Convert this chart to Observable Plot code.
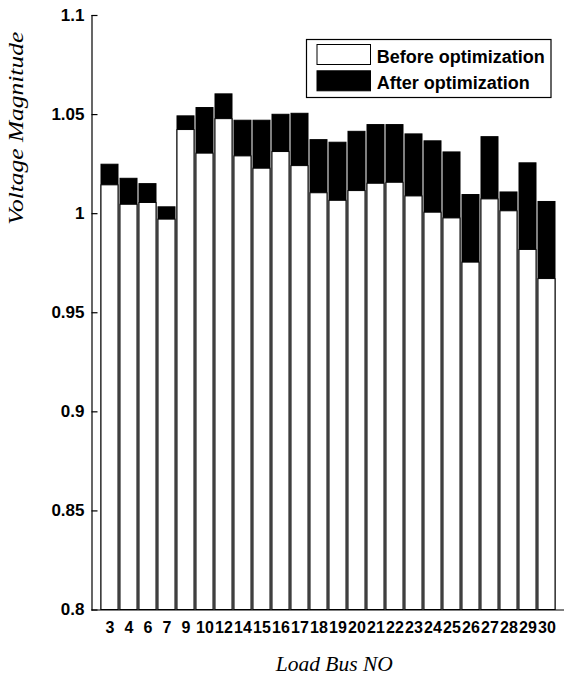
<!DOCTYPE html>
<html>
<head>
<meta charset="utf-8">
<script src="https://cdn.jsdelivr.net/npm/d3@7"></script>
<script src="https://cdn.jsdelivr.net/npm/@observablehq/plot@0.6"></script>
<style>
  html, body { margin: 0; padding: 0; background: #fff; }
  #chart { position: relative; width: 564px; height: 677px; }
</style>
</head>
<body>
<div id="chart"></div>
<script>
const buses = [3, 4, 6, 7, 9, 10, 12, 14, 15, 16, 17, 18, 19, 20, 21, 22, 23, 24, 25, 26, 27, 28, 29, 30];
const beforeOpt = [1.0143, 1.0045, 1.0054, 0.9970, 1.0422, 1.0303, 1.0477, 1.0289, 1.0227, 1.0311, 1.0240, 1.0103,
                   1.0065, 1.0114, 1.0151, 1.0156, 1.0087, 1.0005, 0.9976, 0.9753, 1.0072, 1.0012, 0.9817, 0.9670];
const afterOpt = [1.0247, 1.0176, 1.0149, 1.0032, 1.0491, 1.0533, 1.0602, 1.0469, 1.0469, 1.0499, 1.0504, 1.0371,
                  1.0358, 1.0413, 1.0447, 1.0447, 1.0400, 1.0365, 1.0309, 1.0094, 1.0386, 1.0107, 1.0254, 1.0059];
const yTicks = [0.8, 0.85, 0.9, 0.95, 1, 1.05, 1.1];
const yTickLabels = ["0.8", "0.85", "0.9", "0.95", "1", "1.05", "1.1"];
const seriesNames = ["Before optimization", "After optimization"];
const xTitle = "Load Bus NO";
const yTitle = "Voltage Magnitude";

const data = buses.map((b, i) => ({bus: String(b), before: beforeOpt[i], after: afterOpt[i]}));
const base = yTicks[0];

const sans = "'Liberation Sans', Arial, Helvetica, sans-serif";
const serif = "'Liberation Serif', 'Times New Roman', serif";

const W = 564, H = 677, mL = 91.5, mT = 15, mB = 67.5, mR = 0;
const tickLen = 6;

const plot = Plot.plot({
  width: W,
  height: H,
  marginLeft: mL,
  marginTop: mT,
  marginBottom: mB,
  marginRight: mR,
  style: {background: "#fff", fontFamily: sans, color: "#000", overflow: "visible"},
  x: {type: "band", domain: buses.map(String), paddingInner: 0.13, paddingOuter: 0.45, label: null},
  y: {domain: [yTicks[0], yTicks[yTicks.length - 1]], label: null},
  marks: [
    Plot.barY(data, {x: "bus", y1: base, y2: "after", fill: "#000", stroke: "#000", strokeWidth: 1}),
    Plot.barY(data, {x: "bus", y1: base, y2: "before", fill: "#fff", stroke: "#000", strokeWidth: 1}),
    Plot.ruleY([base], {stroke: "#000", strokeWidth: 1.2}),
    Plot.frame({anchor: "left", stroke: "#000", strokeWidth: 1.2}),
    // inward y ticks
    Plot.tickY(yTicks, {y: (d) => d, insetRight: W - mL - mR - tickLen, stroke: "#000", strokeWidth: 1.2}),
    Plot.axisY({
      ticks: yTicks,
      tickFormat: (d) => yTickLabels[yTicks.indexOf(d)],
      tickSize: 0,
      tickPadding: 7.5,
      fontSize: 17,
      fontWeight: "bold",
      fontFamily: sans,
      fill: "#000",
      label: null
    }),
    Plot.axisX({
      tickSize: 0,
      tickPadding: 11.5,
      fontSize: 16,
      fontWeight: "bold",
      fontFamily: sans,
      fill: "#000",
      label: null
    })
  ]
});

document.getElementById("chart").appendChild(plot);

const svg = d3.select(plot);

// Axis titles
svg.append("text")
  .attr("transform", "translate(23.3,128.3) rotate(-90)")
  .attr("text-anchor", "middle")
  .attr("font-family", serif)
  .attr("font-style", "italic")
  .attr("font-size", 20)
  .attr("textLength", 193)
  .attr("lengthAdjust", "spacingAndGlyphs")
  .attr("fill", "#000")
  .text(yTitle);

svg.append("text")
  .attr("x", 334.3)
  .attr("y", 670.7)
  .attr("text-anchor", "middle")
  .attr("font-family", serif)
  .attr("font-style", "italic")
  .attr("font-size", 20)
  .attr("textLength", 117)
  .attr("lengthAdjust", "spacingAndGlyphs")
  .attr("fill", "#000")
  .text(xTitle);

// Legend
const lg = svg.append("g").attr("text-anchor", "start");
lg.append("rect").attr("x", 306.5).attr("y", 39.5).attr("width", 244.5).attr("height", 58)
  .attr("fill", "#fff").attr("stroke", "#000").attr("stroke-width", 1.2);
const swatchFill = ["#fff", "#000"];
seriesNames.forEach((name, i) => {
  const y0 = 44.5 + i * 26.3;
  lg.append("rect").attr("x", 317).attr("y", y0).attr("width", 53.5).attr("height", 20)
    .attr("fill", swatchFill[i]).attr("stroke", "#000").attr("stroke-width", 1);
  lg.append("text").attr("x", 376.7).attr("y", 63.3 + i * 26)
    .attr("text-anchor", "start")
    .attr("font-family", sans).attr("font-weight", "bold").attr("font-size", 18)
    .attr("fill", "#000").text(name);
});
</script>
</body>
</html>
